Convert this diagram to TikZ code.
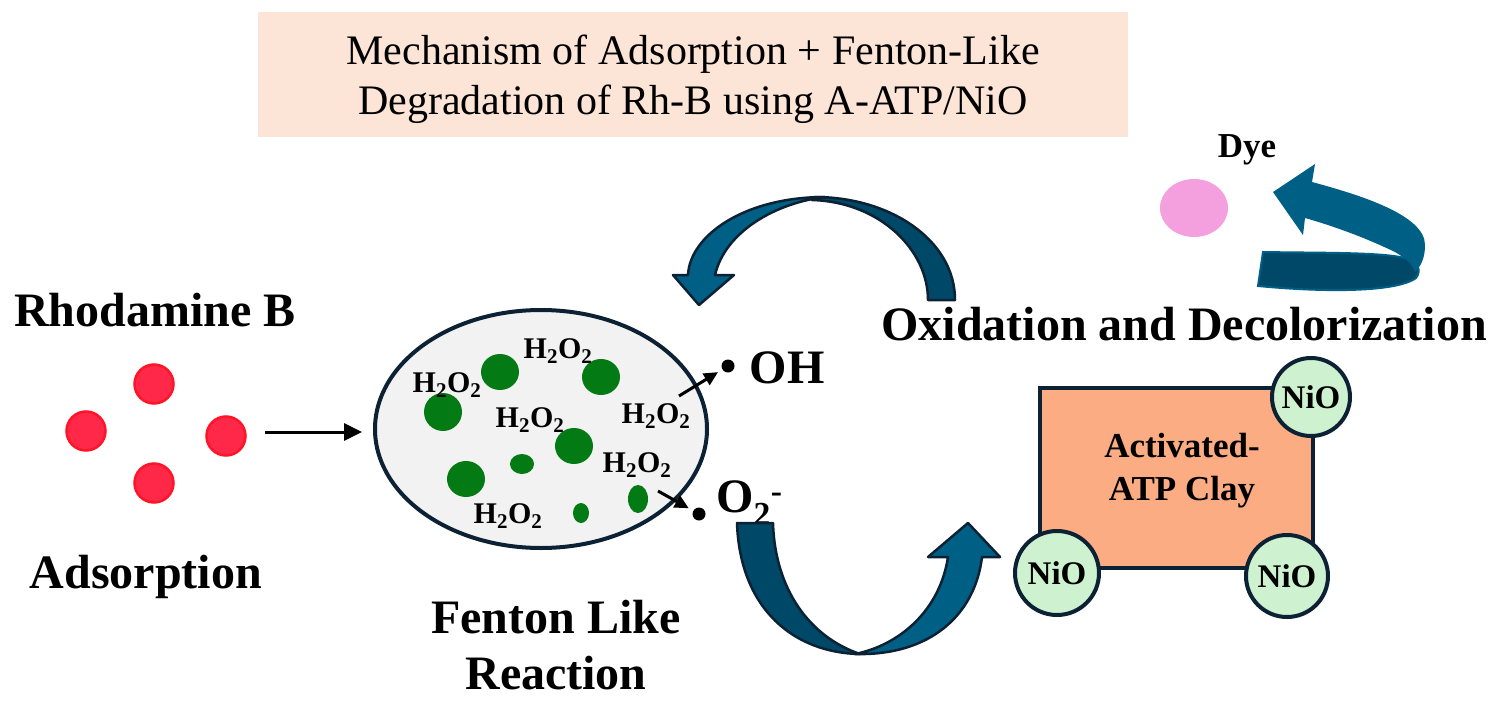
\documentclass[tikz,border=0pt]{standalone}
\usepackage{fontspec}
\setmainfont{Liberation Serif}
\usepackage{tikz}
\usepackage{xcolor}
\usetikzlibrary{positioning,shapes.geometric,arrows.meta}

\definecolor{titlepeach}{RGB}{252,228,214}
\definecolor{rhodred}{RGB}{255,40,72}
\definecolor{rhodedge}{RGB}{255,20,40}
\definecolor{blobgreen}{RGB}{4,122,20}
\definecolor{wellgray}{RGB}{242,242,242}
\definecolor{navy}{RGB}{12,34,52}
\definecolor{arrowlight}{RGB}{0,95,133}
\definecolor{arrowdark}{RGB}{0,72,104}
\definecolor{dyepink}{RGB}{245,160,222}
\definecolor{clayorange}{RGB}{251,172,130}
\definecolor{niogreen}{RGB}{206,242,208}

\begin{document}
\begin{tikzpicture}[x=1pt,y=-1pt]
\tikzstyle{every node}+=[inner sep=0pt]
\tikzstyle{biglabel}=[font=\fontsize{48}{56}\selectfont\bfseries, align=center]
\tikzstyle{hlabel}=[font=\fontsize{30}{30}\selectfont\bfseries, anchor=base]
\tikzstyle{rdot}=[circle, draw=rhodedge, fill=rhodred, line width=2.5pt, minimum size=39pt]
\tikzstyle{radical}=[circle, fill=black, minimum size=13pt]
\tikzstyle{nio}=[circle, draw=navy, fill=niogreen, line width=4pt, font=\fontsize{33}{33}\selectfont\bfseries]
\tikzstyle{band}=[draw=navy, line width=2.5pt, line join=round]
\useasboundingbox (0,0) rectangle (1502,701);

% title box
\node [fill=titlepeach, minimum width=870pt, minimum height=125pt] (title) at (693,74.5) {};
\node [align=center, font=\fontsize{42}{50}\selectfont] (titletext) at (693,79)
  {Mechanism of Adsorption + Fenton-Like\\Degradation of Rh-B using A-ATP/NiO};

% adsorption of Rhodamine B
\node [biglabel, anchor=base] (rhodlabel) at (155,326) {Rhodamine B};
\node [rdot] (r1) at (154,384) {};
\node [rdot] (r2) at (86,431) {};
\node [rdot] (r3) at (226,436) {};
\node [rdot] (r4) at (154,483) {};
\node [biglabel, anchor=base] (adslabel) at (146,588) {Adsorption};

% Fenton like reaction
\node [ellipse, draw=navy, fill=wellgray, line width=4pt, minimum width=332pt, minimum height=238pt] (well) at (541,429) {};
\coordinate (adsfrom) at (265,432);
\draw [black, line width=3pt, -{Triangle[length=18pt,width=17pt]}, shorten >=11pt] (adsfrom) -- (adsfrom -| well.west);
\fill [blobgreen] (500,372) ellipse (19 and 18);
\fill [blobgreen] (443,412) ellipse (19 and 19);
\fill [blobgreen] (601,377) ellipse (19 and 18);
\fill [blobgreen] (574,446) ellipse (19 and 18);
\fill [blobgreen] (466,479) ellipse (19 and 18);
\fill [blobgreen] (522,464) ellipse (12 and 10);
\fill [blobgreen] (581,513) ellipse (8 and 10);
\fill [blobgreen] (638,499) ellipse (10 and 14);
\node [hlabel] (h1) at (558,358) {H\textsubscript{2}O\textsubscript{2}};
\node [hlabel] (h2) at (447,392) {H\textsubscript{2}O\textsubscript{2}};
\node [hlabel] (h3) at (530,427) {H\textsubscript{2}O\textsubscript{2}};
\node [hlabel] (h4) at (656,423) {H\textsubscript{2}O\textsubscript{2}};
\node [hlabel] (h5) at (637,472) {H\textsubscript{2}O\textsubscript{2}};
\node [hlabel] (h6) at (508,523) {H\textsubscript{2}O\textsubscript{2}};
\node [biglabel] (fentonlabel) at (556,645) {Fenton Like\\Reaction};

% radicals
\node [radical] (ohdot) at (728,366) {};
\node [radical] (o2dot) at (699,514) {};
\coordinate (ohfrom) at (679,396);
\coordinate (o2from) at (658,491);
\draw [black, line width=3pt, -{Triangle[length=14pt,width=13pt]}, shorten >=5pt] (ohfrom) -- (ohdot);
\draw [black, line width=3pt, -{Triangle[length=14pt,width=13pt]}, shorten >=5pt] (o2from) -- (o2dot);
\node [biglabel, anchor=base] (ohlabel) at (787,383) {OH};
\node [biglabel, anchor=base west] (o2label) at (716,512) {O\textsubscript{2}\textsuperscript{-}};

% curved arrow over the top
\filldraw [band, fill=arrowdark] (815,197) .. controls (890,197) and (955,240) .. (955,300)
  -- (928,300) .. controls (928,250) and (880,202) .. (812,200) -- cycle;
\filldraw [band, fill=arrowlight] (825,197) .. controls (745,197) and (690,235) .. (688,275)
  -- (673,275) -- (699,305) -- (734,275) -- (715,275)
  .. controls (725,232) and (775,203) .. (825,197) -- cycle;

% curved arrow underneath
\filldraw [band, fill=arrowdark] (737,523) .. controls (740,610) and (795,653) .. (860,654)
  .. controls (810,637) and (775,590) .. (773,523) -- cycle;
\filldraw [band, fill=arrowlight] (855,654) .. controls (930,656) and (975,615) .. (982,557)
  -- (1000,557) -- (968,523) -- (928,557) -- (948,557)
  .. controls (940,610) and (900,645) .. (855,654) -- cycle;

% activated clay with NiO
\node [draw=navy, fill=clayorange, line width=4pt, minimum width=273pt, minimum height=180pt] (clay) at (1176.5,478) {};
\node [font=\fontsize{35}{43}\selectfont\bfseries, align=center] (claylabel) at (1182,471) {Activated-\\ATP Clay};
\node [nio, minimum size=78pt] (niotr) at (1311,397) {NiO};
\node [nio, minimum size=84pt] (niobl) at (1057,573) {NiO};
\node [nio, minimum size=82pt] (niobr) at (1287,576) {NiO};
\node [biglabel, anchor=base] (oxlabel) at (1184,340) {Oxidation and Decolorization};

% dye release
\node [font=\fontsize{35}{35}\selectfont\bfseries, anchor=base] (dyelabel) at (1247,157) {Dye};
\fill [dyepink] (1194,208) ellipse (34 and 29);
\filldraw [fill=arrowdark, draw=arrowlight, line width=2pt] (1263,252) .. controls (1320,253) and (1380,252) .. (1405,258)
  .. controls (1418,262) and (1422,270) .. (1416,278)
  .. controls (1395,293) and (1320,292) .. (1258,286) -- cycle;
\fill [arrowlight] (1312,182) .. controls (1360,195) and (1425,215) .. (1425,245)
  .. controls (1425,258) and (1421,266) .. (1415,272)
  .. controls (1412,263) and (1405,258) .. (1395,252)
  .. controls (1370,240) and (1340,228) .. (1305,218)
  -- (1303,235) -- (1273,192) -- (1315,164) -- cycle;
\end{tikzpicture}
\end{document}
